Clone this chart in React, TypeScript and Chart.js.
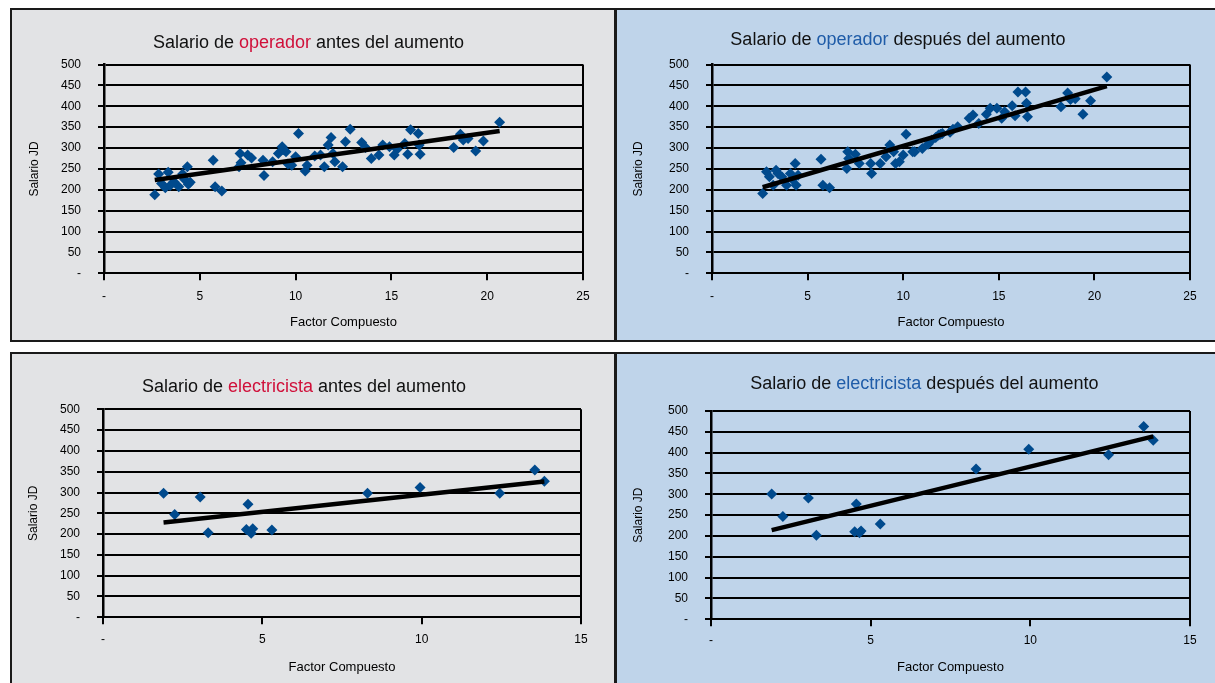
import React, { useEffect, useRef } from "react";
import { Chart, registerables } from "chart.js";

Chart.register(...registerables);

// ---------- DATA ----------
// Operadores: factor compuesto and salary before / after the raise
const opFactor = [
  2.65, 2.85, 3.0, 3.2, 3.35, 3.45, 3.65, 3.9, 4.1, 4.2, 4.35, 4.4, 4.5,
  5.7, 5.8, 6.15, 7.05, 7.1, 7.15, 7.5, 7.7, 8.3, 8.35, 8.8, 9.1, 9.3,
  9.35, 9.5, 9.6, 9.8, 10.0, 10.15, 10.5, 10.6, 11.0, 11.3, 11.5, 11.7,
  11.85, 11.95, 12.05, 12.45, 12.6, 12.85, 13.45, 13.65, 13.95, 14.35,
  14.55, 14.9, 15.15, 15.3, 15.7, 15.85, 16.0, 16.4, 16.45, 16.5, 18.25,
  18.6, 18.75, 19.0, 19.4, 19.8, 20.65,
];
const opBefore = [
  188, 238, 215, 205, 242, 210, 219, 207, 238, 225, 255, 213, 218,
  271, 207, 197, 255, 287, 265, 283, 276, 271, 234, 267, 287, 303,
  296, 291, 262, 259, 279, 335, 245, 259, 281, 283, 255, 307,
  325, 287, 267, 255, 315, 345, 313, 301, 275, 283,
  307, 303, 283, 297, 311, 285, 344, 335, 307, 285, 301,
  333, 319, 323, 293, 317, 362,
];
const opAfter = [
  191, 243, 231, 211, 247, 239, 231, 211, 239, 225, 263, 211, 235,
  273, 211, 205, 251, 291, 275, 285, 263, 263, 239, 263, 279, 307,
  299, 291, 263, 267, 283, 333, 291, 291, 299, 309, 319, 325,
  331, 333, 335, 338, 345, 351, 371, 379, 359, 381,
  395, 395, 371, 387, 401, 377, 434, 434, 407, 375, 399,
  432, 416, 418, 381, 413, 470,
];

// Electricistas
const elFactor = [1.9, 2.25, 3.05, 3.3, 4.5, 4.55, 4.65, 4.7, 5.3, 8.3, 9.95, 12.45, 13.55, 13.85];
const elBefore = [298, 247, 289, 203, 211, 272, 202, 213, 210, 298, 312, 298, 354, 327];
const elAfter = [301, 247, 291, 202, 210, 277, 208, 212, 229, 361, 408, 395, 463, 430];

const salaryMax = 500;
const salaryStep = 50;
const opFactorMax = 25;
const elFactorMax = 15;
const factorStep = 5;

const yTitle = "Salario JD";
const xTitle = "Factor Compuesto";

// ---------- helpers ----------
function linearFit(xs: number[], ys: number[]) {
  const n = xs.length;
  const mx = xs.reduce((a, b) => a + b, 0) / n;
  const my = ys.reduce((a, b) => a + b, 0) / n;
  let sxy = 0;
  let sxx = 0;
  for (let i = 0; i < n; i++) {
    sxy += (xs[i] - mx) * (ys[i] - my);
    sxx += (xs[i] - mx) * (xs[i] - mx);
  }
  const b = sxy / sxx;
  const a = my - b * mx;
  const x0 = Math.min(...xs);
  const x1 = Math.max(...xs);
  return [
    { x: x0, y: a + b * x0 },
    { x: x1, y: a + b * x1 },
  ];
}

const FONT = "'Liberation Sans', Arial, Helvetica, sans-serif";
const GRAY = "#e2e3e5";
const BLUE = "#bfd4ea";
const MARK = "#004a8d";
const RED = "#d0103a";
const WORDBLUE = "#1f5ca8";

type Spec = {
  box: { left: number; top: number; width: number; height: number };
  bg: string;
  title: [string, string, string];
  wordColor: string;
  titleC: { x: number; y: number };
  plot: { l: number; r: number; t: number; b: number };
  xMax: number;
  xs: number[];
  ys: number[];
  xLabelY: number;
  xTitleY: number;
  yTitleX: number;
};

const BORDER = 2;

const specs: Spec[] = [
  {
    box: { left: 10, top: 8, width: 606, height: 334 },
    bg: GRAY,
    title: ["Salario de ", "operador", " antes del aumento"],
    wordColor: RED,
    titleC: { x: 308.5, y: 42.3 },
    plot: { l: 104, r: 583, t: 64.5, b: 273.3 },
    xMax: opFactorMax,
    xs: opFactor,
    ys: opBefore,
    xLabelY: 297,
    xTitleY: 322.3,
    yTitleX: 35,
  },
  {
    box: { left: 615, top: 8, width: 602, height: 334 },
    bg: BLUE,
    title: ["Salario de ", "operador", " después del aumento"],
    wordColor: WORDBLUE,
    titleC: { x: 898, y: 39 },
    plot: { l: 712, r: 1190, t: 64.5, b: 273.3 },
    xMax: opFactorMax,
    xs: opFactor,
    ys: opAfter,
    xLabelY: 296.7,
    xTitleY: 322.3,
    yTitleX: 639,
  },
  {
    box: { left: 10, top: 352, width: 606, height: 335 },
    bg: GRAY,
    title: ["Salario de ", "electricista", " antes del aumento"],
    wordColor: RED,
    titleC: { x: 304, y: 385.7 },
    plot: { l: 103, r: 581, t: 409.3, b: 617.3 },
    xMax: elFactorMax,
    xs: elFactor,
    ys: elBefore,
    xLabelY: 639.3,
    xTitleY: 667.3,
    yTitleX: 33.6,
  },
  {
    box: { left: 615, top: 352, width: 602, height: 335 },
    bg: BLUE,
    title: ["Salario de ", "electricista", " después del aumento"],
    wordColor: WORDBLUE,
    titleC: { x: 924.4, y: 383.3 },
    plot: { l: 711, r: 1190, t: 411, b: 619.3 },
    xMax: elFactorMax,
    xs: elFactor,
    ys: elAfter,
    xLabelY: 640.7,
    xTitleY: 667.3,
    yTitleX: 639,
  },
];

function Panel({ s }: { s: Spec }) {
  const ref = useRef<HTMLCanvasElement | null>(null);
  const cw = s.box.width - 2 * BORDER;
  const ch = s.box.height - 2 * BORDER;
  const ox = s.box.left + BORDER;
  const oy = s.box.top + BORDER;

  useEffect(() => {
    if (!ref.current) return;
    const plotL = s.plot.l - ox;
    const plotR = s.plot.r - ox;
    const plotT = s.plot.t - oy;
    const plotB = s.plot.b - oy;
    const xTick = 7;
    const yTick = 6;
    const tickLH = 12 * 1.2;
    const xLabelPad = s.xLabelY - s.plot.b - xTick - tickLH / 2;
    const xTitleLH = 13 * 1.2;
    const xTitlePad = oy + ch - s.xTitleY - xTitleLH / 2;
    const yTitleLH = 12 * 1.2;
    const yTitlePad = s.yTitleX - ox - yTitleLH / 2;

    const points = s.xs.map((x, i) => ({ x, y: s.ys[i] }));
    const trend = linearFit(s.xs, s.ys);

    const chart = new Chart(ref.current, {
      type: "scatter",
      data: {
        datasets: [
          {
            type: "line",
            data: trend,
            borderColor: "#000",
            borderWidth: 4.5,
            pointRadius: 0,
            fill: false,
            order: 0,
          } as any,
          {
            data: points,
            pointStyle: "rectRot",
            pointRadius: 5.5,
            pointBorderWidth: 0,
            backgroundColor: MARK,
            borderColor: MARK,
            order: 1,
          },
        ],
      },
      options: {
        responsive: false,
        animation: false,
        events: [],
        layout: {
          padding: { left: 0, top: plotT, right: cw - plotR, bottom: 0 },
        },
        plugins: {
          legend: { display: false },
          tooltip: { enabled: false },
          title: { display: false },
        },
        scales: {
          x: {
            type: "linear",
            min: 0,
            max: s.xMax,
            afterFit: (scale: any) => {
              scale.height = ch - plotB;
            },
            ticks: {
              stepSize: factorStep,
              color: "#000",
              padding: xLabelPad,
              font: { family: FONT, size: 12 },
              callback: (v: any) => (v === 0 ? "-" : String(v)),
            },
            grid: {
              color: (c: any) => (c.tick && c.tick.value === s.xMax ? "#000" : "rgba(0,0,0,0)"),
              lineWidth: 2,
              drawTicks: true,
              tickLength: xTick,
              tickColor: "#000",
              tickWidth: 2,
            },
            border: { display: true, color: "#000", width: 2 },
            title: {
              display: true,
              text: xTitle,
              color: "#000",
              font: { family: FONT, size: 13 },
              padding: { top: 0, bottom: xTitlePad },
            },
          },
          y: {
            type: "linear",
            min: 0,
            max: salaryMax,
            afterFit: (scale: any) => {
              scale.width = plotL;
            },
            ticks: {
              stepSize: salaryStep,
              color: "#000",
              padding: 17,
              font: { family: FONT, size: 12 },
              callback: (v: any) => (v === 0 ? "-" : String(v)),
            },
            grid: {
              color: "#000",
              lineWidth: 2,
              drawTicks: true,
              tickLength: yTick,
              tickColor: "#000",
              tickWidth: 2,
            },
            border: { display: true, color: "#000", width: 2.5 },
            title: {
              display: true,
              text: yTitle,
              color: "#000",
              font: { family: FONT, size: 12 },
              padding: { top: yTitlePad, bottom: 0 },
            },
          },
        },
      } as any,
    });
    return () => chart.destroy();
  }, []);

  return (
    <>
      <div
        style={{
          position: "absolute",
          left: s.box.left,
          top: s.box.top,
          width: s.box.width,
          height: s.box.height,
          boxSizing: "border-box",
          border: `${BORDER}px solid #1a1a1a`,
          background: s.bg,
        }}
      >
        <canvas
          ref={ref}
          width={cw}
          height={ch}
          style={{ position: "absolute", left: 0, top: 0, width: cw, height: ch, display: "block" }}
        />
      </div>
      <div
        style={{
          position: "absolute",
          left: s.titleC.x,
          top: s.titleC.y,
          transform: "translate(-50%, -50%)",
          whiteSpace: "nowrap",
          fontFamily: FONT,
          fontSize: 18,
          lineHeight: 1,
          color: "#111",
        }}
      >
        {s.title[0]}
        <span style={{ color: s.wordColor }}>{s.title[1]}</span>
        {s.title[2]}
      </div>
    </>
  );
}

export default function App() {
  return (
    <div
      style={{
        position: "fixed",
        left: 0,
        top: 0,
        width: 1215,
        height: 683,
        overflow: "hidden",
        background: "#fff",
      }}
    >
      {specs.map((s, i) => (
        <Panel key={i} s={s} />
      ))}
    </div>
  );
}
